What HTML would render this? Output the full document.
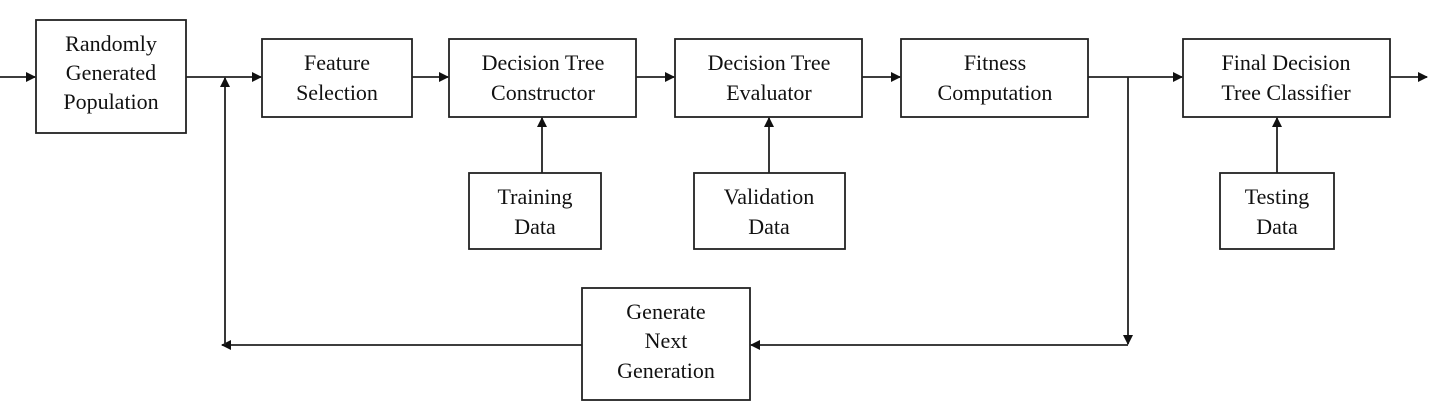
<!DOCTYPE html>
<html><head><style>
body{margin:0;background:#fff;}
svg text{font-family:"Liberation Serif",serif;font-size:22px;fill:#111;text-anchor:middle;}
</style></head><body>
<svg width="1436" height="410" xmlns="http://www.w3.org/2000/svg">
<defs><marker id="a" markerWidth="10" markerHeight="10" refX="9" refY="5" orient="auto" markerUnits="userSpaceOnUse"><path d="M0,0 L10,5 L0,10 z" fill="#111"/></marker></defs>
<g fill="none" stroke="#222" stroke-width="1.8">
<rect x="36" y="20" width="150" height="113"/>
<rect x="262" y="39" width="150" height="78"/>
<rect x="449" y="39" width="187" height="78"/>
<rect x="675" y="39" width="187" height="78"/>
<rect x="901" y="39" width="187" height="78"/>
<rect x="1183" y="39" width="207" height="78"/>
<rect x="469" y="173" width="132" height="76"/>
<rect x="694" y="173" width="151" height="76"/>
<rect x="1220" y="173" width="114" height="76"/>
<rect x="582" y="288" width="168" height="112"/>
</g>
<g stroke="#222" stroke-width="1.8" fill="none" marker-end="url(#a)">
<line x1="0" y1="77" x2="35" y2="77"/>
<line x1="186" y1="77" x2="261" y2="77"/>
<line x1="412" y1="77" x2="448" y2="77"/>
<line x1="636" y1="77" x2="674" y2="77"/>
<line x1="862" y1="77" x2="900" y2="77"/>
<line x1="1088" y1="77" x2="1182" y2="77"/>
<line x1="1390" y1="77" x2="1427" y2="77"/>
<line x1="542" y1="173" x2="542" y2="118"/>
<line x1="769" y1="173" x2="769" y2="118"/>
<line x1="1277" y1="173" x2="1277" y2="118"/>
<line x1="1128" y1="77" x2="1128" y2="344"/>
<line x1="1128" y1="345" x2="751" y2="345"/>
<line x1="582" y1="345" x2="222" y2="345"/>
<line x1="225" y1="345" x2="225" y2="78"/>
</g>
<text x="111" y="51">Randomly</text><text x="111" y="80">Generated</text><text x="111" y="109">Population</text>
<text x="337" y="70">Feature</text><text x="337" y="100">Selection</text>
<text x="543" y="70">Decision Tree</text><text x="543" y="100">Constructor</text>
<text x="769" y="70">Decision Tree</text><text x="769" y="100">Evaluator</text>
<text x="995" y="70">Fitness</text><text x="995" y="100">Computation</text>
<text x="1286" y="70">Final Decision</text><text x="1286" y="100">Tree Classifier</text>
<text x="535" y="204">Training</text><text x="535" y="234">Data</text>
<text x="769" y="204">Validation</text><text x="769" y="234">Data</text>
<text x="1277" y="204">Testing</text><text x="1277" y="234">Data</text>
<text x="666" y="319">Generate</text><text x="666" y="348">Next</text><text x="666" y="378">Generation</text>
</svg>
</body></html>
